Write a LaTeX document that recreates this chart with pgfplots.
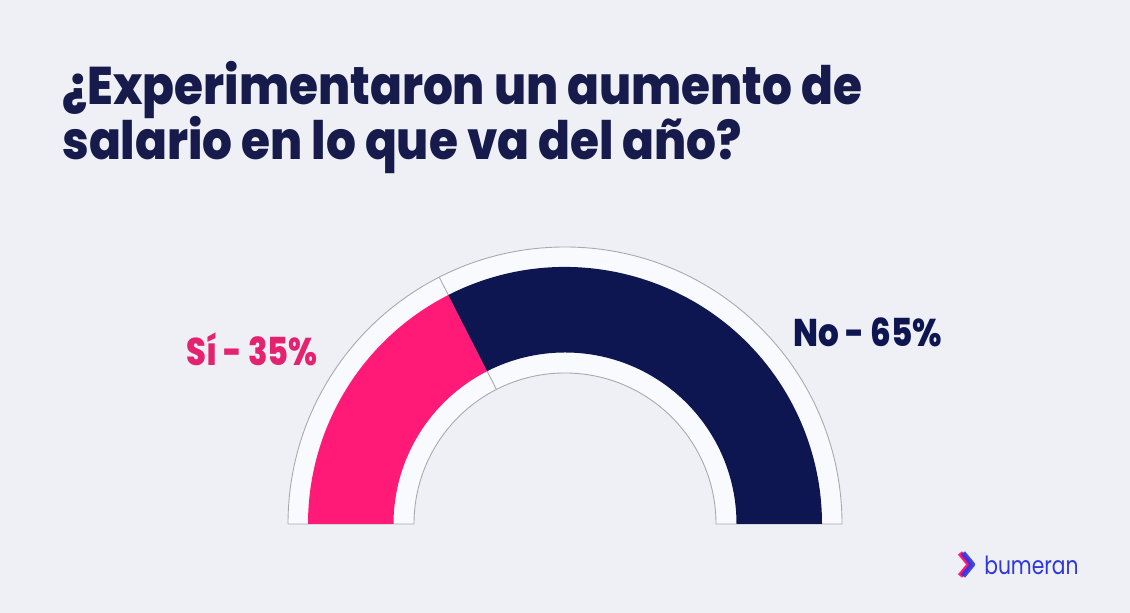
\documentclass[border=0pt]{standalone}
\usepackage{pgfplots}
\pgfplotsset{compat=1.18}
\usepackage{pgfplotstable}
\usepackage{fontspec}
\setmainfont{Poppins}
\newfontfamily\heavy{Poppins ExtraBold}
\definecolor{bgc}{HTML}{EEF0F5}
\definecolor{ringc}{HTML}{F9FAFD}
\definecolor{grayc}{HTML}{A8AAB2}
\definecolor{pinkc}{HTML}{FF1A78}
\definecolor{pinkt}{HTML}{E4226F}
\definecolor{navyc}{HTML}{0E1652}
\definecolor{titlec}{HTML}{161B4C}
\definecolor{logob}{HTML}{2F36DE}
\pgfplotstableread{
label value
Si 35
No 65
}\gaugedata
\begin{document}
\begin{tikzpicture}
\pgfplotstablegetelem{0}{value}\of\gaugedata \let\vA\pgfplotsretval
\pgfplotstablegetelem{1}{value}\of\gaugedata \let\vB\pgfplotsretval
\pgfmathsetmacro\angB{180-180*\vA/(\vA+\vB)}
\xdef\angB{\angB}
\fill[bgc] (0,0) rectangle (565pt,306.5pt);
\begin{axis}[at={(0,0)}, anchor=south west, x=0.5pt, y=0.5pt,
  xmin=0, xmax=1130, ymin=0, ymax=613, hide axis, scale only axis, clip=false]
% frame ring
\filldraw[fill=ringc, draw=grayc, line width=0.45pt]
  (axis cs:288,89) arc[start angle=180, end angle=0, radius=138.5pt]
  -- (axis cs:716,89) arc[start angle=0, end angle=180, radius=75.5pt] -- cycle;
\draw[grayc, line width=0.45pt] ([shift={(\angB:75.5pt)}]axis cs:565,89) -- ([shift={(\angB:138.5pt)}]axis cs:565,89);
% Si slice
\fill[pinkc] (axis cs:308,89) arc[start angle=180, end angle=\angB, radius=128.5pt]
  -- ([shift={(\angB:85.75pt)}]axis cs:565,89) arc[start angle=\angB, end angle=180, radius=85.75pt] -- cycle;
% No slice
\fill[navyc] ([shift={(\angB:128.5pt)}]axis cs:565,89) arc[start angle=\angB, end angle=0, radius=128.5pt]
  -- (axis cs:736.5,89) arc[start angle=0, end angle=\angB, radius=85.75pt] -- cycle;
% title
\node[anchor=base west, inner sep=0, xscale=0.886, text=titlec, font=\fontsize{26.5pt}{30pt}\selectfont\heavy] at (axis cs:62,508) {¿Experimentaron un aumento de};
\node[anchor=base west, inner sep=0, xscale=0.886, text=titlec, font=\fontsize{26.5pt}{30pt}\selectfont\heavy] at (axis cs:62,453) {salario en lo que va del año?};
% labels
\node[anchor=base west, inner sep=0, xscale=0.83, text=pinkt, font=\fontsize{19.3pt}{22pt}\selectfont\heavy] at (axis cs:186,247) {Sí - 35\%};
\node[anchor=base west, inner sep=0, xscale=0.845, text=navyc, font=\fontsize{19.3pt}{22pt}\selectfont\heavy] at (axis cs:793,266) {No - 65\%};
% logo
\draw[pinkc, line width=2.6pt, line join=round] (axis cs:960,60) -- (axis cs:969.5,48.5) -- (axis cs:960,37);
\draw[logob, line width=2.6pt, line join=round, opacity=0.9] (axis cs:963,60) -- (axis cs:972.5,48.5) -- (axis cs:963,37);
\node[anchor=base west, inner sep=0, xscale=0.81, text=logob, font=\fontsize{12.5pt}{14pt}\selectfont] at (axis cs:984,38) {bumeran};
\end{axis}
\end{tikzpicture}
\end{document}
